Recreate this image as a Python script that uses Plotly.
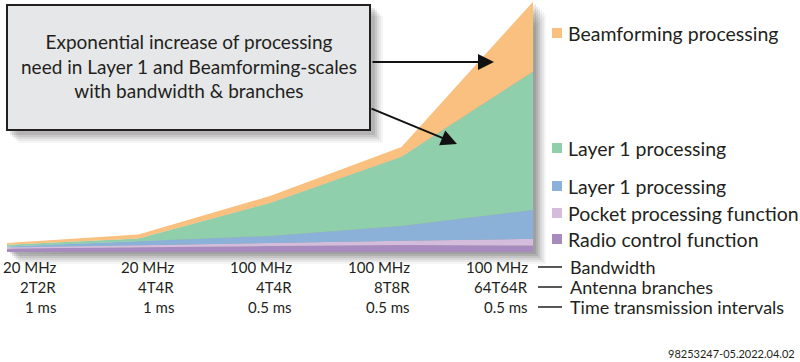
import plotly.graph_objects as go

# ---------------- data ----------------
bandwidth = ["20 MHz", "20 MHz", "100 MHz", "100 MHz", "100 MHz"]
antenna = ["2T2R", "4T4R", "4T4R", "8T8R", "64T64R"]
tti = ["1 ms", "1 ms", "0.5 ms", "0.5 ms", "0.5 ms"]
row_names = ["Bandwidth", "Antenna branches", "Time transmission intervals"]

series_names = ["Radio control function", "Pocket processing function",
                "Layer 1 processing", "Layer 1 processing", "Beamforming processing"]
radio = [3.5, 5, 6, 7, 6.5]
pocket = [1, 2, 3.3, 4.3, 6.7]
layer1_blue = [1, 4, 6.7, 14.7, 28.8]
layer1_green = [1.7, 2.5, 33, 69.3, 138.3]
beam = [1.7, 4, 7, 9.7, 70]
colors = ["#A88BBE", "#D4BCDD", "#8CB1D9", "#8FCFAC", "#F9C07F"]

callout = "Exponential increase of processing<br>need in Layer 1 and Beamforming-scales<br>with bandwidth & branches"
footer = "98253247-05.2022.04.02"

# ---------------- geometry ----------------
W, H = 800, 362
X0, DX = 7, 131.5          # pixel of first category, pixels per category
Y0 = 252                   # pixel of zero line
FONT = "Lato"

def px(x):
    return x / W

def py(y):
    return 1 - y / H

xi = list(range(len(bandwidth)))
xr = [(0 - X0) / DX, (W - X0) / DX]
yr = [Y0 - H, Y0]

fig = go.Figure()

# drop shadow of the area (blurred by stacking offset copies), drawn beneath the areas
total = [a + b + c + d + e for a, b, c, d, e in zip(radio, pocket, layer1_blue, layer1_green, beam)]
shadow_steps = [(13, 12, 0.05), (11, 10, 0.07), (9, 8, 0.09), (7, 6, 0.11), (5, 4, 0.13), (3, 2, 0.12)]
for k, (sx, sy, op) in enumerate(shadow_steps):
    sfx = "" if k == 0 else str(k + 1)
    fig.add_trace(go.Scatter(
        x=xi, y=total, mode="lines", line=dict(width=0),
        fill="tozeroy", fillcolor=f"rgba(50,50,50,{op})",
        xaxis=f"x{sfx}", yaxis=f"y{sfx}", hoverinfo="skip", showlegend=False))
    xa = dict(range=[xr[0] - sx / DX, xr[1] - sx / DX], domain=[0, 1], visible=False)
    ya = dict(range=[yr[0] + sy, yr[1] + sy], domain=[0, 1], visible=False)
    if k > 0:
        xa["overlaying"] = "x"
        ya["overlaying"] = "y"
    fig.layout[f"xaxis{sfx}"] = xa
    fig.layout[f"yaxis{sfx}"] = ya

top = len(shadow_steps) + 1
fig.layout[f"xaxis{top}"] = dict(range=xr, domain=[0, 1], visible=False, overlaying="x")
fig.layout[f"yaxis{top}"] = dict(range=yr, domain=[0, 1], visible=False, overlaying="y")
for name, vals, col in zip(series_names, [radio, pocket, layer1_blue, layer1_green, beam], colors):
    fig.add_trace(go.Scatter(
        x=xi, y=vals, name=name, mode="lines", line=dict(width=0, color=col),
        stackgroup="one", fillcolor=col, showlegend=False,
        xaxis=f"x{top}", yaxis=f"y{top}"))

shapes = []
annotations = []

# callout box shadow + box
for k, op in enumerate([0.05, 0.06, 0.08, 0.10, 0.12]):
    o = 12 - 2 * k
    shapes.append(dict(type="rect", xref="paper", yref="paper",
                       x0=px(6 + o), x1=px(371 + o), y0=py(131 + o), y1=py(4 + o),
                       line=dict(width=0), fillcolor=f"rgba(50,50,50,{op})", layer="above"))
shapes.append(dict(type="rect", xref="paper", yref="paper",
                   x0=px(7), x1=px(370), y0=py(130), y1=py(5),
                   line=dict(width=2, color="#231F20"), fillcolor="#E6E7E9", layer="above"))
annotations.append(dict(xref="paper", yref="paper", x=px(189), y=py(66), text=callout,
                        showarrow=False, align="center", xanchor="center", yanchor="middle",
                        font=dict(family=FONT, size=19, color="#231F20")))

# arrows
annotations.append(dict(xref="paper", yref="paper", x=px(494), y=py(62), ax=-123, ay=0,
                        axref="pixel", ayref="pixel", text="", showarrow=True,
                        arrowhead=2, arrowsize=1.6, arrowwidth=2, arrowcolor="#111"))
annotations.append(dict(xref="paper", yref="paper", x=px(457), y=py(144), ax=-87, ay=-36,
                        axref="pixel", ayref="pixel", text="", showarrow=True,
                        arrowhead=2, arrowsize=1.6, arrowwidth=2, arrowcolor="#111"))

# legend (manual)
legend_items = [("Beamforming processing", colors[4], 33),
                ("Layer 1 processing", colors[3], 148),
                ("Layer 1 processing", colors[2], 186),
                ("Pocket processing function", colors[1], 213),
                ("Radio control function", colors[0], 239)]
for text, col, yc in legend_items:
    shapes.append(dict(type="rect", xref="paper", yref="paper",
                       x0=px(552), x1=px(562), y0=py(yc + 5), y1=py(yc - 5),
                       line=dict(width=0), fillcolor=col))
    annotations.append(dict(xref="paper", yref="paper", x=px(566), y=py(yc), text=text,
                            showarrow=False, xanchor="left", yanchor="middle",
                            font=dict(family=FONT, size=19.5, color="#231F20")))

# category labels (three rows)
row_y = [267, 287, 307]
for i in xi:
    xright = 58 + 118 * i
    for row, yc in zip([bandwidth, antenna, tti], row_y):
        annotations.append(dict(xref="paper", yref="paper", x=px(xright), y=py(yc), text=row[i],
                                showarrow=False, xanchor="right", yanchor="middle",
                                font=dict(family=FONT, size=15, color="#231F20")))
for name, yc in zip(row_names, row_y):
    shapes.append(dict(type="line", xref="paper", yref="paper",
                       x0=px(538), x1=px(562), y0=py(yc), y1=py(yc),
                       line=dict(width=1.5, color="#231F20")))
    annotations.append(dict(xref="paper", yref="paper", x=px(568), y=py(yc), text=name,
                            showarrow=False, xanchor="left", yanchor="middle",
                            font=dict(family=FONT, size=18, color="#231F20")))

annotations.append(dict(xref="paper", yref="paper", x=px(797), y=py(353), text=footer,
                        showarrow=False, xanchor="right", yanchor="middle",
                        font=dict(family=FONT, size=11, color="#231F20")))

fig.update_layout(
    width=W, height=H, margin=dict(l=0, r=0, t=0, b=0),
    paper_bgcolor="white", plot_bgcolor="white",
    shapes=shapes, annotations=annotations, showlegend=False,
)

fig.write_html("out.html", config={"displayModeBar": False},
               post_script="document.body.style.margin='0px';document.body.style.overflow='hidden';")
